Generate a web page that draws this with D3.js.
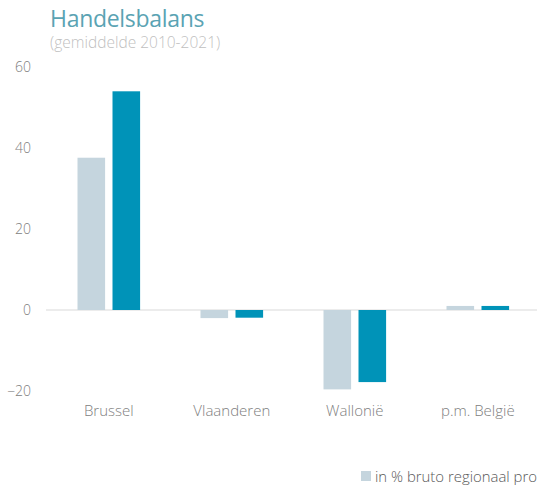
<!DOCTYPE html>
<html><head><meta charset="utf-8">
<script src="https://cdn.jsdelivr.net/npm/d3@7"></script>
<style>
html,body{margin:0;padding:0;background:#fff;overflow:hidden;}
svg{display:block;font-family:"Open Sans",sans-serif;font-weight:300;}
</style></head>
<body>
<svg id="c" width="537" height="488"></svg>
<script>
const categories = ["Brussel", "Vlaanderen", "Wallonië", "p.m. België"];
const seriesNames = ["in % bruto regionaal product", "series2"];
const seriesA = [37.6, -2.0, -19.6, 1.0];
const seriesB = [54.0, -1.9, -17.8, 1.0];
const yTicks = [-20, 0, 20, 40, 60];
const colors = ["#c5d5de", "#0093b8"];

const svg = d3.select("#c");
const y = d3.scaleLinear().domain([-20, 60]).range([391, 67]);
const x = d3.scaleBand().domain(categories).range([47.3, 539.3]).paddingInner(0).paddingOuter(0);

svg.append("text").attr("x", 50).attr("y", 27).attr("fill", "#5aa3b3")
  .attr("font-size", 23).attr("font-weight", 400).attr("letter-spacing", -0.3).text("Handelsbalans");
svg.append("text").attr("x", 50).attr("y", 47.5).attr("fill", "#bfbfbf")
  .attr("font-size", 15.5).text("(gemiddelde 2010-2021)");

const yAxis = d3.axisLeft(y).tickValues(yTicks).tickSize(0).tickPadding(0);
const ya = svg.append("g").attr("transform", "translate(31,0)").call(yAxis);
ya.select(".domain").remove();
ya.selectAll("text").attr("fill", "#808080").attr("font-size", 14)
  .attr("font-family", "Open Sans, sans-serif");

svg.append("line").attr("x1", 46).attr("x2", 537).attr("y1", y(0)).attr("y2", y(0))
  .attr("stroke", "#d9d9d9").attr("stroke-width", 1);

const bw = 27.6, gap = 7.4;
const data = [seriesA, seriesB];
data.forEach((s, si) => {
  svg.append("g").selectAll("rect").data(s).join("rect")
    .attr("x", (d, i) => x(categories[i]) + x.bandwidth() / 2 - bw - gap / 2 + si * (bw + gap))
    .attr("width", bw)
    .attr("y", d => Math.min(y(d), y(0)))
    .attr("height", d => Math.abs(y(d) - y(0)))
    .attr("fill", colors[si]);
});

const xAxis = d3.axisBottom(x).tickSize(0).tickPadding(0);
const xa = svg.append("g").attr("transform", "translate(0,405)").call(xAxis);
xa.select(".domain").remove();
xa.selectAll("text").attr("fill", "#808080").attr("font-size", 15)
  .attr("font-family", "Open Sans, sans-serif");

const lg = svg.append("g");
lg.append("rect").attr("x", 361).attr("y", 471).attr("width", 10).attr("height", 10).attr("fill", colors[0]);
lg.append("text").attr("x", 375).attr("y", 482).attr("fill", "#595959").attr("font-size", 14.9)
  .text(seriesNames[0]);
</script>
</body></html>
